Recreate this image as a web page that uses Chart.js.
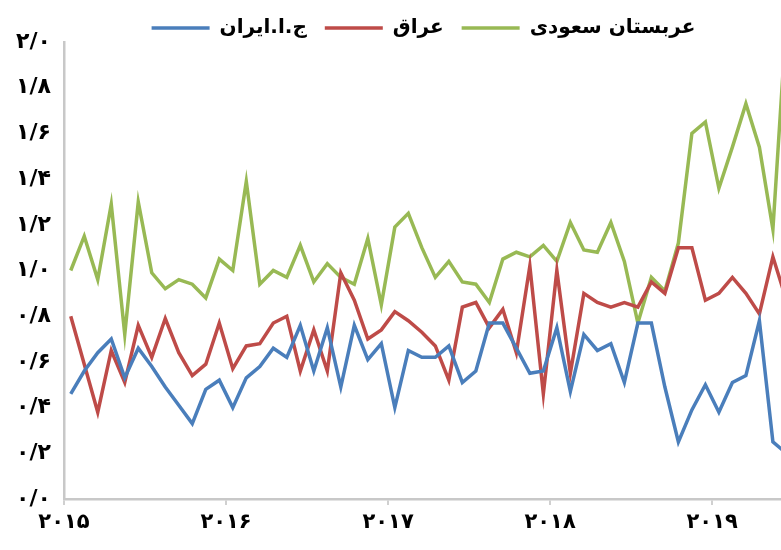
<!DOCTYPE html>
<html lang="fa">
<head>
<meta charset="utf-8">
<title>قیمت نفت خام</title>
<script src="https://cdn.jsdelivr.net/npm/chart.js@4.4.1/dist/chart.umd.min.js"></script>
<style>
  html, body { margin: 0; padding: 0; background: #fff; }
</style>
</head>
<body>
<canvas id="crudeChart" width="781" height="550"></canvas>
<script>
// series names (legend order, left to right)
const seriesNames = ["ج.ا.ایران", "عراق", "عربستان سعودی"];
const seriesColors = ["#4a7ebb", "#be4b48", "#98b954"];

// year tick labels and the month index where each year starts
const yearLabels = ["۲۰۱۵", "۲۰۱۶", "۲۰۱۷", "۲۰۱۸", "۲۰۱۹"];
const yearStarts = [0, 12, 24, 36, 48];

// monthly values, Jan 2015 onwards
const iran = [0.46, 0.56, 0.64, 0.70, 0.53, 0.66, 0.58, 0.49, 0.41, 0.33, 0.48, 0.52,
              0.40, 0.53, 0.58, 0.66, 0.62, 0.76, 0.56, 0.75, 0.49, 0.76, 0.61, 0.68,
              0.40, 0.65, 0.62, 0.62, 0.67, 0.51, 0.56, 0.77, 0.77, 0.66, 0.55, 0.56,
              0.75, 0.47, 0.72, 0.65, 0.68, 0.51, 0.77, 0.77, 0.49, 0.25, 0.39, 0.50,
              0.38, 0.51, 0.54, 0.78, 0.25, 0.20];
const iraq = [0.80, 0.59, 0.38, 0.65, 0.51, 0.76, 0.62, 0.79, 0.64, 0.54, 0.59, 0.77,
              0.57, 0.67, 0.68, 0.77, 0.80, 0.56, 0.74, 0.56, 0.99, 0.87, 0.70, 0.74,
              0.82, 0.78, 0.73, 0.67, 0.52, 0.84, 0.86, 0.75, 0.83, 0.64, 1.02, 0.46,
              1.00, 0.55, 0.90, 0.86, 0.84, 0.86, 0.84, 0.95, 0.90, 1.10, 1.10, 0.87,
              0.90, 0.97, 0.90, 0.81, 1.06, 0.87];
const saudi = [1.00, 1.15, 0.96, 1.29, 0.72, 1.30, 0.99, 0.92, 0.96, 0.94, 0.88, 1.05,
               1.00, 1.39, 0.94, 1.00, 0.97, 1.11, 0.95, 1.03, 0.97, 0.94, 1.14, 0.85,
               1.19, 1.25, 1.10, 0.97, 1.04, 0.95, 0.94, 0.86, 1.05, 1.08, 1.06, 1.11,
               1.04, 1.21, 1.09, 1.08, 1.21, 1.04, 0.77, 0.97, 0.91, 1.12, 1.60, 1.65,
               1.36, 1.54, 1.73, 1.54, 1.18, 2.10];

const faDigits = "۰۱۲۳۴۵۶۷۸۹";
function toFa(str) {
  return String(str).replace(/\d/g, (d) => faDigits[d]).replace(".", "/");
}

// each month sits in the middle of its slot
function toPoints(values) {
  return values.map((v, i) => ({ x: i + 0.5, y: v }));
}

const fontFamily = "'DejaVu Sans', sans-serif";

// fixed band at the top for the legend, nudged right like the original
const legendSpacer = {
  id: "legendSpacer",
  beforeInit(chart) {
    const origFit = chart.legend.fit;
    chart.legend.fit = function () {
      origFit.call(this);
      this.height = 42;
    };
  },
  afterLayout(chart) {
    chart.legend.left += 33;
    chart.legend.right += 33;
  },
};

const ctx = document.getElementById("crudeChart").getContext("2d");
new Chart(ctx, {
  type: "line",
  data: {
    datasets: [iran, iraq, saudi].map((values, k) => ({
      label: seriesNames[k],
      data: toPoints(values),
      borderColor: seriesColors[k],
      backgroundColor: seriesColors[k],
      borderWidth: 3.5,
      pointRadius: 0,
      tension: 0,
    })),
  },
  options: {
    responsive: false,
    animation: false,
    layout: { padding: 0 },
    plugins: {
      tooltip: { enabled: false },
      legend: {
        position: "top",
        labels: {
          usePointStyle: true,
          pointStyle: "line",
          pointStyleWidth: 58,
          padding: 18,
          color: "#000",
          font: { family: fontFamily, weight: "bold", size: 20 },
        },
      },
    },
    scales: {
      x: {
        type: "linear",
        min: 0,
        max: 53.1,
        afterBuildTicks: (axis) => {
          axis.ticks = yearStarts.map((v) => ({ value: v }));
        },
        afterFit: (scale) => { scale.height = 51; },
        grid: { drawOnChartArea: false, drawTicks: true, tickLength: 6, color: "#d0d0d0", lineWidth: 2 },
        border: { color: "#c8c8c8", width: 2.5 },
        ticks: {
          autoSkip: false,
          maxRotation: 0,
          padding: 5,
          color: "#000",
          font: { family: fontFamily, weight: "bold", size: 21 },
          callback: (value, index) => yearLabels[index],
        },
      },
      y: {
        min: 0,
        max: 2,
        afterFit: (scale) => { scale.width = 64; },
        grid: { drawOnChartArea: false, drawTicks: false },
        border: { color: "#c8c8c8", width: 2.5 },
        ticks: {
          stepSize: 0.2,
          padding: 13,
          color: "#000",
          font: { family: fontFamily, weight: "bold", size: 22 },
          callback: (value) => toFa(value.toFixed(1)),
        },
      },
    },
  },
  plugins: [legendSpacer],
});
</script>
</body>
</html>
